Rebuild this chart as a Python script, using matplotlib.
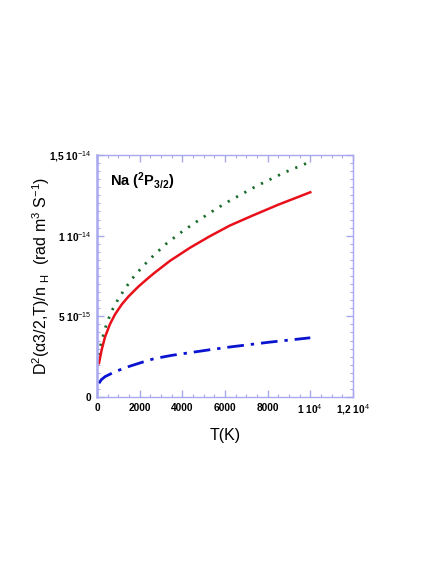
import matplotlib
matplotlib.use("Agg")
import matplotlib.pyplot as plt
from matplotlib.ticker import MultipleLocator, FixedLocator

plt.rcParams['font.family'] = ['Liberation Sans', 'DejaVu Sans']
plt.rcParams['mathtext.fontset'] = 'custom'
plt.rcParams['mathtext.rm'] = 'Liberation Sans'
plt.rcParams['mathtext.it'] = 'Liberation Sans:italic'
plt.rcParams['mathtext.bf'] = 'Liberation Sans:bold'

# Data
T_red = [94, 219, 375, 609, 844, 1156, 1469, 1938, 2406, 2719, 3422, 4359, 5297,
         6234, 7250, 8500, 10000]
red = [2.10e-15, 2.93e-15, 3.72e-15, 4.52e-15, 5.12e-15, 5.73e-15, 6.22e-15, 6.84e-15,
       7.38e-15, 7.72e-15, 8.44e-15, 9.25e-15, 9.97e-15, 1.063e-14, 1.122e-14,
       1.192e-14, 1.269e-14]

T_green = [63, 219, 453, 688, 1000, 1313, 1703, 2172, 2688, 3266, 4047, 4828, 5609,
           6203, 7484, 8813, 10000]
green = [2.6e-15, 3.5e-15, 4.55e-15, 5.33e-15, 6.08e-15, 6.72e-15, 7.42e-15, 8.13e-15,
         8.82e-15, 9.52e-15, 1.031e-14, 1.101e-14, 1.168e-14, 1.215e-14, 1.308e-14,
         1.393e-14, 1.458e-14]

T_blue = [94, 200, 375, 844, 1469, 2250, 2688, 3500, 4359, 5300, 6234, 8031, 10000]
blue = [0.85e-15, 1.07e-15, 1.26e-15, 1.57e-15, 1.88e-15, 2.21e-15, 2.38e-15, 2.58e-15,
        2.75e-15, 2.93e-15, 3.10e-15, 3.39e-15, 3.67e-15]

xticks = [0, 2000, 4000, 6000, 8000, 10000, 12000]
xticklabels = ['0', '2000', '4000', '6000', '8000', r'1 10$^{4}$', r'1,2 10$^{4}$']
yticks = [0, 5e-15, 1e-14, 1.5e-14]
yticklabels = ['0', r'5 10$^{-15}$', r'1 10$^{-14}$', r'1,5 10$^{-14}$']

fig = plt.figure(figsize=(4.36, 5.64), dpi=100)
ax = fig.add_axes([0.2225, 0.2961, 0.587, 0.4291])

ax.plot(T_green, green, color='#1a6b2a', linestyle=(0, (0.8, 2.6)), linewidth=2.0)
ax.plot(T_red, red, color='#e8101a', linestyle='-', linewidth=1.8, solid_joinstyle='round')
ax.plot(T_blue, blue, color='#0a14d0', linestyle=(0, (6, 2.5, 1.2, 2.5)), linewidth=2.0)

ax.set_xlim(0, 12000)
ax.set_ylim(0, 1.5e-14)

spine_col = '#a8a8ee'
for s in ax.spines.values():
    s.set_color(spine_col)
    s.set_linewidth(1.0)
ax.spines['left'].set_linewidth(1.8)

ax.xaxis.set_major_locator(FixedLocator(xticks))
ax.yaxis.set_major_locator(FixedLocator(yticks))
ax.xaxis.set_minor_locator(MultipleLocator(500))
ax.yaxis.set_minor_locator(MultipleLocator(5e-16))
ax.set_xticklabels(xticklabels, fontweight='bold', fontsize=7.3)
ax.set_yticklabels(yticklabels, fontweight='bold', fontsize=7.3)
ax.tick_params(which='both', direction='in', top=True, right=True, color=spine_col)
ax.tick_params(which='major', length=5, width=1.0, pad=4)
ax.tick_params(which='minor', length=2.5, width=0.8)

ax.set_xlabel('T(K)', fontsize=11.5, labelpad=8)
ax.set_ylabel('D$^2$(α3/2,T)/n $_{\\rm H}$  (rad m$^3$ S$^{-1}$)', fontsize=11.5, labelpad=-2)

ax.text(0.05, 0.89, r'Na ($^{\mathbf{2}}$P$_{\mathbf{3/2}}$)', transform=ax.transAxes,
        fontsize=10.5, fontweight='bold', ha='left', va='center')

fig.savefig('out.png', dpi=100)
